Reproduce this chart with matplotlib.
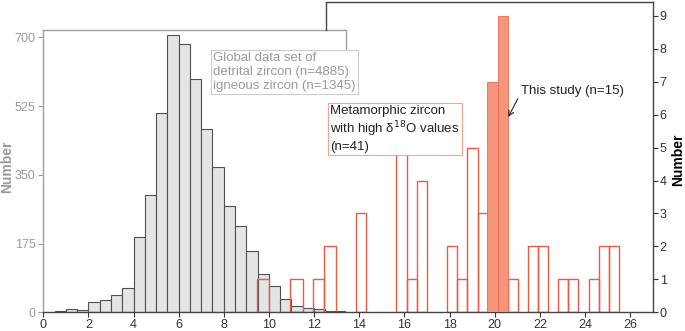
import numpy as np
from matplotlib import pyplot as plt

plt.rcParams['font.family'] = ['Liberation Sans', 'DejaVu Sans']

# global data set (left axis), bins of 0.5 from 0.5 to 13.5
glob_left = np.arange(0.5, 13.5, 0.5)
glob_counts = [4, 8, 6, 27, 32, 44, 63, 193, 300, 507, 705, 683, 594, 467,
               370, 271, 221, 157, 98, 68, 34, 17, 11, 8, 4, 3]

# metamorphic zircon with high d18O (right axis), left edge, right edge, count
meta_left = [9.47, 10.95, 11.95, 12.45, 13.87, 15.64, 16.10, 16.54, 17.89, 18.33,
             18.78, 19.25, 20.13, 20.57, 21.48, 21.92, 22.82, 23.27, 24.17, 24.61, 25.06]
meta_right = [9.98, 11.49, 12.45, 12.97, 14.32, 16.10, 16.54, 17.00, 18.33, 18.78,
              19.25, 19.69, 20.57, 21.02, 21.92, 22.37, 23.27, 23.71, 24.61, 25.06, 25.52]
meta_counts = [1, 1, 1, 2, 3, 5, 1, 4, 2, 1, 5, 3, 1, 1, 2, 2, 1, 1, 1, 2, 2]

# this study
study_left = [19.66, 20.13]
study_right = [20.13, 20.57]
study_counts = [7, 9]

left_ticks = [0, 175, 350, 525, 700]
right_ticks = list(range(0, 10))
x_ticks = list(range(0, 27, 2))

fig = plt.figure(figsize=(6.85, 3.31), dpi=100)

# left (gray) axes
axl = fig.add_axes([0.0632, 0.0565, 0.4419, 0.8529])
axl.bar(glob_left, glob_counts, width=0.5, align='edge', color='#e4e4e4',
        edgecolor='#505050', linewidth=0.8)
axl.set_xlim(0, 13.42)
axl.set_ylim(0, 719)
axl.set_yticks(left_ticks)
axl.tick_params(axis='y', colors='#9a9a9a', labelsize=9, length=3.5, width=0.8, pad=2)
axl.set_xticks([])
for s in ['top', 'left', 'right']:
    axl.spines[s].set_color('#a0a0a0')
    axl.spines[s].set_linewidth(1.0)
axl.spines['bottom'].set_visible(False)
axl.spines['right'].set_bounds(660, 719)
axl.set_ylabel('Number', color='#9a9a9a', fontsize=10, fontweight='bold')
axl.yaxis.set_label_coords(-0.098, 0.517)

# main axes (right scale)
ax = fig.add_axes([0.0632, 0.0565, 0.8896, 0.9384])
ax.patch.set_alpha(0)
w = np.array(meta_right) - np.array(meta_left)
ax.bar(meta_left, meta_counts, width=w, align='edge', facecolor='none',
       edgecolor='#ec5a45', linewidth=1.0)
ws = np.array(study_right) - np.array(study_left)
ax.bar(study_left, study_counts, width=ws, align='edge', color='#f4967b',
       edgecolor='#ec6a52', linewidth=0.6, zorder=3)

ax.set_xlim(0, 27)
ax.set_ylim(0, 9.43)
ax.set_xticks(x_ticks)
ax.yaxis.tick_right()
ax.yaxis.set_label_position('right')
ax.set_yticks(right_ticks)
ax.tick_params(colors='#333333', labelsize=9, length=3.5, width=0.8, pad=1.5)
ax.spines['left'].set_visible(False)
ax.spines['top'].set_bounds(12.54, 27)
for s in ['top', 'right', 'bottom']:
    ax.spines[s].set_color('#444444')
    ax.spines[s].set_linewidth(1.0)
ax.axvline(12.54, ymin=8.58 / 9.43, ymax=1, color='#444444', linewidth=1.0)
ax.set_ylabel('Number', color='black', fontsize=10, fontweight='bold', rotation=90)
ax.yaxis.set_label_coords(1.031, 0.49)

ax.text(7.53, 7.9, 'Global data set of\ndetrital zircon (n=4885)\nigneous zircon (n=1345)',
        color='#9a9a9a', fontsize=9.5, va='top', ha='left', linespacing=1.2,
        bbox=dict(boxstyle='square,pad=0.15', fc='white', ec='#cccccc', lw=0.8), zorder=5)
ax.text(12.72, 6.3, 'Metamorphic zircon\nwith high δ$^{18}$O values\n(n=41)',
        color='#222222', fontsize=9.5, va='top', ha='left', linespacing=1.2,
        bbox=dict(boxstyle='square,pad=0.15', fc='white', ec='#f4a590', lw=0.8), zorder=5)
ax.annotate('This study (n=15)', xy=(20.6, 5.93), xytext=(21.15, 6.72),
            fontsize=9.5, color='#222222', va='center', ha='left',
            arrowprops=dict(arrowstyle='->', color='#222222', lw=0.8,
                            shrinkA=0, shrinkB=0, relpos=(0, 0.3)), zorder=5)

fig.savefig('out.png', dpi=100)
